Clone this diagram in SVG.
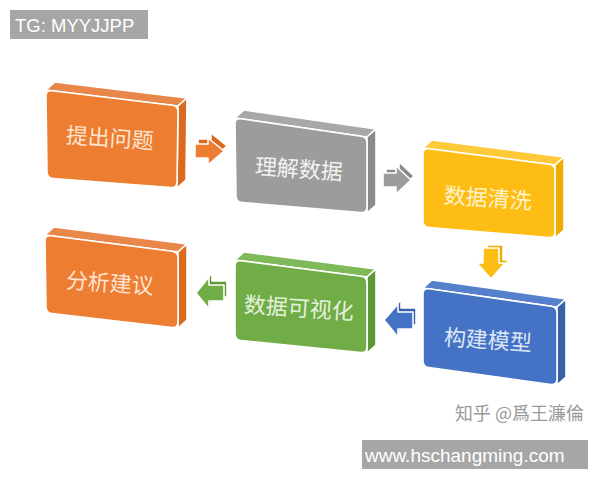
<svg xmlns="http://www.w3.org/2000/svg" width="600" height="480" viewBox="0 0 600 480">
<defs>
<style>
.face{stroke:#ffffff;stroke-width:1.6;stroke-linejoin:round}
.lbl{font-family:"Noto Sans CJK SC","Noto Sans",sans-serif;font-size:22px;text-anchor:middle;dominant-baseline:central}
.tag{font-family:"Liberation Sans",Arial,sans-serif;fill:#ffffff}
.o1{fill:#ed7d31}.o2{fill:#e9864a}.o3{fill:#d96a1e}
.g1{fill:#9c9c9c}.g2{fill:#a8a8a8}.g3{fill:#8a8a8a}
.y1{fill:#fdbd14}.y2{fill:#ffca3a}.y3{fill:#eeac00}
.b1{fill:#4472c4}.b2{fill:#5580cb}.b3{fill:#3961aa}
.n1{fill:#70ad47}.n2{fill:#7fb95a}.n3{fill:#5e9638}
</style>
</defs>
<rect width="600" height="480" fill="#ffffff"/>

<g id="connectors">
  <g id="arrow1">
    <polygon class="face o3" points="198,139 211,139 211,133 227,146 211,160 211,153 198,153"/>
    <polygon class="face o1" points="195,144 208,144 208,138 224,151 208,165 208,158 195,158"/>
  </g>
  <g id="arrow2">
    <polygon class="face g3" points="386,169 399,169 399,162 414,176 399,190 399,183 386,183"/>
    <polygon class="face g1" points="383,173 396,173 396,166 411,180 396,194 396,187 383,187"/>
  </g>
  <g id="arrow3">
    <polygon class="face y3" points="487,245 503,245 503,260 509,260 495,276 481,260 487,260"/>
    <polygon class="face y1" points="483,248 499,248 499,263 505,263 491,279 477,263 483,263"/>
  </g>
  <g id="arrow4">
    <polygon class="face b3" points="416,308 401,308 401,300 387,316 401,333 401,325 416,325"/>
    <polygon class="face b1" points="413,312 398,312 398,304 384,320 398,337 398,329 413,329"/>
  </g>
  <g id="arrow5">
    <polygon class="face n3" points="227,281 212,281 212,273 199,289 212,305 212,297 227,297"/>
    <polygon class="face n1" points="224,285 209,285 209,277 196,293 209,309 209,301 224,301"/>
  </g>
</g>

<g id="node1">
  <polygon class="face o2" points="46,90 55,82 187,98 178,106"/>
  <polygon class="face o3" points="178,106 187,98 186,180 177,188"/>
  <path class="face o1" d="M52,90.7 L172,105.3 Q178,106 178,112 L177,182 Q177,188 171,187.5 L53,178.5 Q47,178 47,172 L46,96 Q46,90 52,90.7 Z"/>
  <text class="lbl" x="110" y="136" fill="#fde4d2" transform="rotate(4 110 136)">提出问题</text>
</g>

<g id="node2">
  <polygon class="face g2" points="235,118 244,110 376,129 367,137"/>
  <polygon class="face g3" points="367,137 376,129 376,205 367,213"/>
  <path class="face g1" d="M241,118.7 L361,136.3 Q367,137 367,143 L367,207 Q367,213 361,212.5 L242,202.5 Q236,202 236,196 L235,124 Q235,118 241,118.7 Z"/>
  <text class="lbl" x="299" y="167" fill="#f2f2f2" transform="rotate(4 299 167)">理解数据</text>
</g>

<g id="node3">
  <polygon class="face y2" points="423,148 432,140 564,157 555,165"/>
  <polygon class="face y3" points="555,165 564,157 564,230 555,238"/>
  <path class="face y1" d="M429,148.7 L549,164.3 Q555,165 555,171 L555,232 Q555,238 549,237.5 L429,227.5 Q423,227 423,221 L423,154 Q423,148 429,148.7 Z"/>
  <text class="lbl" x="488" y="196" fill="#fff2cc" transform="rotate(4 488 196)">数据清洗</text>
</g>

<g id="node4">
  <polygon class="face b2" points="423,288 432,280 566,299 557,307"/>
  <polygon class="face b3" points="557,307 566,299 566,377 557,385"/>
  <path class="face b1" d="M429,288.8 L551,306.2 Q557,307 557,313 L557,379 Q557,385 551,384.5 L429,367.5 Q423,367 423,361 L423,294 Q423,288 429,288.8 Z"/>
  <text class="lbl" x="488" y="338" fill="#dde6f5" transform="rotate(4 488 338)">构建模型</text>
</g>

<g id="node5">
  <polygon class="face n2" points="235,260 244,252 376,269 367,277"/>
  <polygon class="face n3" points="367,277 376,269 376,345 367,353"/>
  <path class="face n1" d="M241,260.7 L361,276.3 Q367,277 367,283 L367,347 Q367,353 361,352.5 L241,340.5 Q235,340 235,334 L235,266 Q235,260 241,260.7 Z"/>
  <text class="lbl" x="299" y="306" fill="#e4f1da" transform="rotate(4 299 306)">数据可视化</text>
</g>

<g id="node6">
  <polygon class="face o2" points="45,235 54,227 187,244 178,252"/>
  <polygon class="face o3" points="178,252 187,244 187,320 178,328"/>
  <path class="face o1" d="M51,235.7 L172,251.3 Q178,252 178,258 L178,322 Q178,328 172,327.5 L52,313.5 Q46,313 46,307 L45,241 Q45,235 51,235.7 Z"/>
  <text class="lbl" x="110" y="281" fill="#fde4d2" transform="rotate(4 110 281)">分析建议</text>
</g>

<g id="tag-top">
  <rect x="10" y="10" width="138" height="29" fill="#a6a6a6"/>
  <text class="tag" x="15" y="32" font-size="18.5">TG: MYYJJPP</text>
</g>

<text x="455" y="420" font-family="Noto Sans CJK SC, Noto Sans, sans-serif" font-size="18" fill="#9a9a9a">知乎 @爲王濂倫</text>

<g id="tag-bottom">
  <rect x="362" y="440" width="226" height="29" fill="#a6a6a6"/>
  <text class="tag" x="365" y="462" font-size="19">www.hschangming.com</text>
</g>
</svg>
